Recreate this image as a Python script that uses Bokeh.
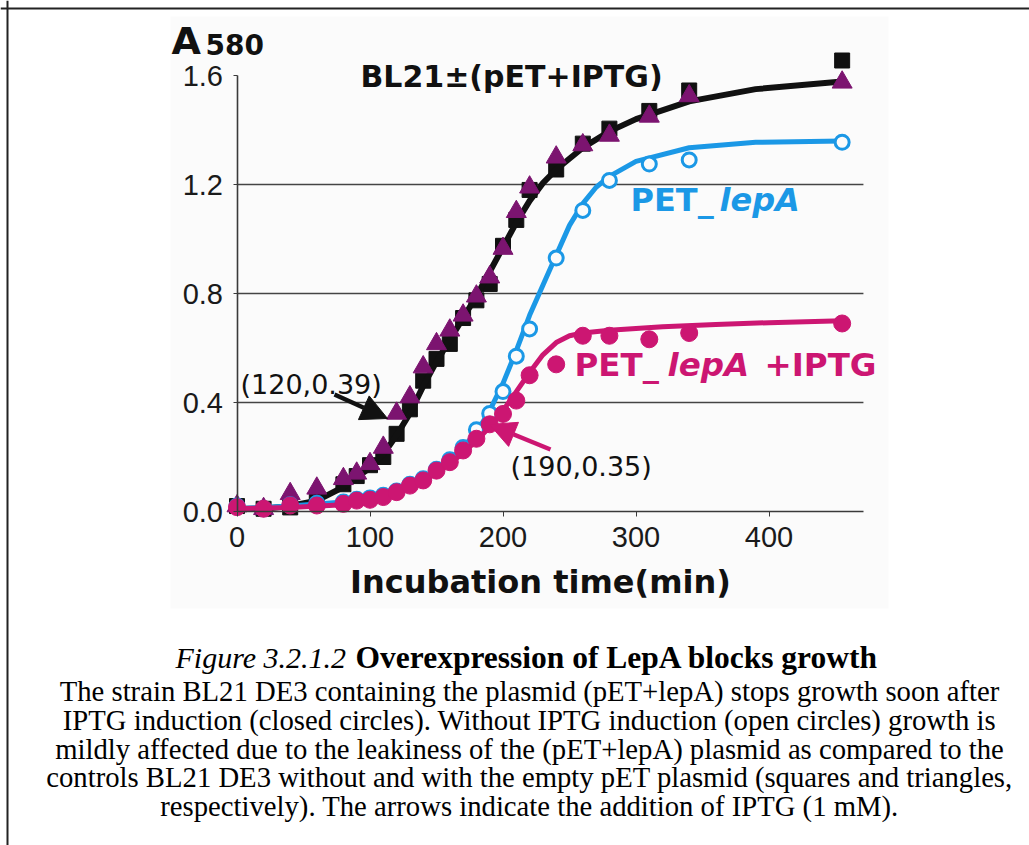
from bokeh.plotting import figure
from bokeh.models import Range1d, FixedTicker, PrintfTickFormatter, Arrow, NormalHead, Span, BoxAnnotation
from bokeh.core.properties import value
from bokeh.embed import file_html
from bokeh.resources import INLINE

# ---- measured growth data (A580 vs incubation time) ----
time_min = [0, 20, 40, 60, 80, 90, 100, 110, 120, 130, 140, 150, 160, 170,
            180, 190, 200, 210, 220, 240, 260, 280, 310, 340, 455]
bl21 = [0.02, 0.01, 0.015, 0.04, 0.10, 0.13, 0.17, 0.20, 0.285, 0.375, 0.48, 0.56, 0.615, 0.71,
        0.775, 0.835, 0.975, 1.07, 1.18, 1.255, 1.35, 1.405, 1.47, 1.545, 1.655]
bl21_pet = [0.02, 0.01, 0.065, 0.085, 0.12, 0.14, 0.175, 0.235, 0.36, 0.42, 0.53, 0.615, 0.665, 0.72,
            0.79, 0.86, 0.965, 1.10, 1.19, 1.30, 1.345, 1.38, 1.45, 1.525, 1.575]
pet_lepa = [0.02, 0.01, 0.025, 0.03, 0.035, 0.045, 0.05, 0.06, 0.075, 0.10, 0.12, 0.155, 0.19, 0.235,
            0.30, 0.36, 0.44, 0.57, 0.67, 0.93, 1.105, 1.215, 1.275, 1.29, 1.355]
pet_lepa_iptg = [0.016, 0.01, 0.022, 0.022, 0.028, 0.04, 0.043, 0.053, 0.071, 0.095, 0.114, 0.15, 0.181, 0.224,
                 0.267, 0.32, 0.358, 0.407, 0.50, 0.54, 0.645, 0.645, 0.632, 0.655, 0.69]

# ---- fitted growth curves ----
fit_time_bl21 = [0, 20, 40, 60, 80, 100, 110, 120, 130, 140, 150, 160, 170, 180, 190, 200,
                 210, 220, 230, 240, 260, 280, 300, 340, 390, 455]
fit_bl21 = [0.01, 0.01, 0.02, 0.04, 0.09, 0.16, 0.21, 0.28, 0.36, 0.46, 0.55, 0.63, 0.71, 0.79, 0.88, 0.97,
            1.06, 1.14, 1.205, 1.255, 1.335, 1.395, 1.44, 1.505, 1.55, 1.578]
fit_time_lepa = [0, 40, 80, 100, 120, 140, 150, 160, 170, 180, 190, 200, 210, 220, 230, 240,
                 250, 260, 270, 280, 300, 340, 390, 455]
fit_lepa = [0.01, 0.02, 0.035, 0.05, 0.075, 0.12, 0.15, 0.19, 0.235, 0.29, 0.37, 0.47, 0.59, 0.72, 0.83, 0.94,
            1.05, 1.13, 1.19, 1.23, 1.285, 1.335, 1.355, 1.36]
fit_time_iptg = [0, 40, 80, 100, 120, 140, 160, 170, 180, 190, 200, 210, 220, 230, 240, 250,
                 260, 280, 320, 360, 400, 455]
fit_iptg = [0.01, 0.015, 0.025, 0.04, 0.065, 0.11, 0.175, 0.215, 0.26, 0.31, 0.37, 0.44, 0.51, 0.575, 0.62, 0.645,
            0.655, 0.665, 0.678, 0.686, 0.693, 0.70]

# IPTG addition points
iptg_ctrl = (120, 0.39)
iptg_lepa = (190, 0.35)

x_ticks = [0, 100, 200, 300, 400]
y_ticks = [0.0, 0.4, 0.8, 1.2, 1.6]
grid_levels = [0.4, 0.8, 1.2]
x_axis_end = 471

x_title = "Incubation time(min)"
caption_title_italic = "Figure 3.2.1.2"
caption_title_bold = "Overexpression of LepA blocks growth"
caption_lines = [
    "The strain BL21 DE3 containing the plasmid (pET+lepA) stops growth soon after",
    "IPTG induction (closed circles). Without IPTG induction (open circles) growth is",
    "mildly affected due to the leakiness of the (pET+lepA) plasmid as compared to the",
    "controls BL21 DE3 without and with the empty pET plasmid (squares and triangles,",
    "respectively). The arrows indicate the addition of IPTG (1 mM).",
]

BLACK = "#111111"
PURPLE = "#7c1470"
BLUE = "#1b98e6"
PINK = "#cc1672"
PANEL = "#fbfbfb"

W, H = 1029, 845
# page pixel <-> data mapping (frame covers the whole canvas)
X0_PX, X_SCALE = 236.5, 1.33      # px of x=0, px per minute
Y0_PX, Y_SCALE = 511.0, 272.5     # px of y=0, px per A580 unit


def dx(px):
    return (px - X0_PX) / X_SCALE


def dy(py):
    return (Y0_PX - py) / Y_SCALE


p = figure(width=W, height=H, output_backend="svg", toolbar_location=None,
           x_range=Range1d(dx(0), dx(W)), y_range=Range1d(dy(H), dy(0)),
           min_border=0, min_border_left=0, min_border_right=0,
           min_border_top=0, min_border_bottom=0)
p.outline_line_color = None
p.background_fill_color = "white"
p.border_fill_color = "white"
p.grid.visible = False

# light panel behind the chart
p.add_layout(BoxAnnotation(left=dx(170), right=dx(888), top=dy(16), bottom=dy(608),
                           fill_color=PANEL, fill_alpha=1.0, line_color=None, level="underlay"))

# page frame lines
p.add_layout(Span(location=dx(7), dimension="height", line_color="#222222", line_width=2))
p.add_layout(Span(location=dy(8), dimension="width", line_color="#222222", line_width=2))

# axes crossing at the origin
for ax in p.xaxis:
    ax.fixed_location = 0
    ax.bounds = (0, x_axis_end)
    ax.ticker = FixedTicker(ticks=x_ticks)
    ax.minor_tick_line_color = None
    ax.major_tick_in = 0
    ax.major_tick_out = 5
    ax.axis_line_color = "#3a3a3a"
    ax.axis_line_width = 1.6
    ax.major_tick_line_color = "#3a3a3a"
    ax.major_label_text_font = "Liberation Sans"
    ax.major_label_text_font_size = "29px"
    ax.major_label_text_color = "#1a1a1a"
    ax.major_label_standoff = 10

for ax in p.yaxis:
    ax.fixed_location = 0
    ax.bounds = (0, 1.6)
    ax.ticker = FixedTicker(ticks=y_ticks)
    ax.formatter = PrintfTickFormatter(format="%.1f")
    ax.minor_tick_line_color = None
    ax.major_tick_in = 0
    ax.major_tick_out = 4
    ax.axis_line_color = "#3a3a3a"
    ax.axis_line_width = 1.6
    ax.major_tick_line_color = "#3a3a3a"
    ax.major_label_text_font = "Liberation Sans"
    ax.major_label_text_font_size = "29px"
    ax.major_label_text_color = "#1a1a1a"
    ax.major_label_standoff = 10

# horizontal reference lines
p.segment(x0=[0] * len(grid_levels), x1=[x_axis_end] * len(grid_levels),
          y0=grid_levels, y1=grid_levels, line_color="#444444", line_width=1.4)

# BL21 controls
p.scatter(time_min, bl21, marker="square", size=15, fill_color=BLACK, line_color=BLACK)
p.line(fit_time_bl21, fit_bl21, line_color=BLACK, line_width=6, line_join="round", line_cap="round")
p.scatter(time_min, bl21_pet, marker="triangle", size=20, fill_color=PURPLE, line_color=PURPLE)

# pET+lepA without IPTG
p.line(fit_time_lepa, fit_lepa, line_color=BLUE, line_width=5, line_join="round", line_cap="round")
p.scatter(time_min, pet_lepa, marker="circle", size=14, fill_color=PANEL,
          line_color=BLUE, line_width=3)

# pET+lepA with IPTG
p.line(fit_time_iptg, fit_iptg, line_color=PINK, line_width=5, line_join="round", line_cap="round")
p.scatter(time_min, pet_lepa_iptg, marker="circle", size=17, fill_color=PINK, line_color=PINK)

# IPTG arrows
p.add_layout(Arrow(x_start=dx(334), y_start=dy(394), x_end=dx(387), y_end=dy(418),
                   line_color=BLACK, line_width=4.5,
                   end=NormalHead(size=26, fill_color=BLACK, line_color=BLACK)))
p.add_layout(Arrow(x_start=dx(550), y_start=dy(449), x_end=dx(489), y_end=dy(424),
                   line_color=PINK, line_width=4.5,
                   end=NormalHead(size=26, fill_color=PINK, line_color=PINK)))


def label(px, py, txt, size, color="#111111", font="DejaVu Sans", style="normal", align="left"):
    # py is the wanted baseline in page pixels; lift by the renderer's baseline drop
    base = py - 0.33 * size
    p.text(x=[dx(px)], y=[dy(base)], text=[txt], text_font=value(font),
           text_font_size=f"{size}px", text_font_style=style, text_color=color,
           text_align=align, text_baseline="alphabetic")


# axis titles
label(171, 53, "A", 38, style="bold")
label(205, 53, "580", 28, style="bold")
label(540, 592, x_title, 32, style="bold", align="center")

# annotations
label(240, 393, f"({iptg_ctrl[0]},{iptg_ctrl[1]})", 27)
label(510, 475, f"({iptg_lepa[0]},{iptg_lepa[1]})", 27)

# series names
label(360, 86, "BL21\u00b1(pET+IPTG)", 30, style="bold")
label(630, 210, "PET_", 32, color=BLUE, style="bold")
label(719, 210, "lepA", 32, color=BLUE, style="bold italic")
label(574, 375, "PET_", 32.5, color=PINK, style="bold")
label(667, 375, "lepA", 32.5, color=PINK, style="bold italic")
label(764, 375, "+IPTG", 32.5, color=PINK, style="bold")

# caption
label(175, 667, caption_title_italic, 30, color="black", font="Liberation Serif", style="italic")
label(355, 667, caption_title_bold, 31.5, color="black", font="Liberation Serif", style="bold")
for i, line in enumerate(caption_lines):
    label(529, 700 + 28.8 * i, line, 28.7, color="black", font="Liberation Serif", align="center")

open("out.html", "w").write(file_html(p, INLINE))
